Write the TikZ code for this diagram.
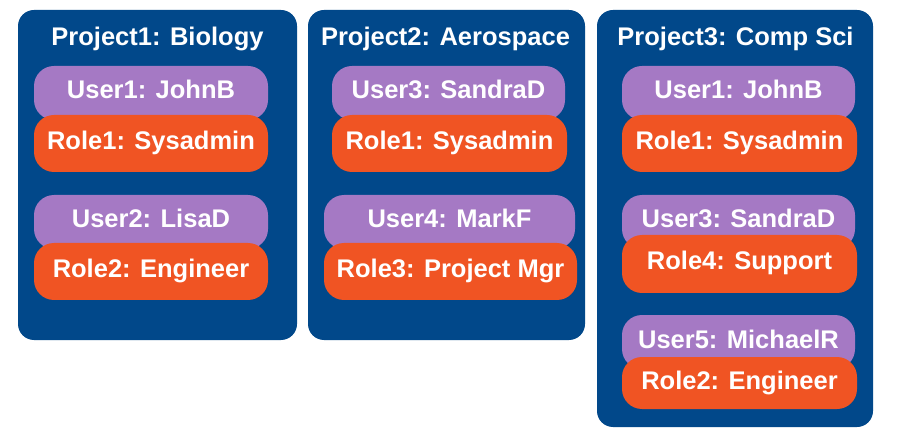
\documentclass[tikz,border=0pt]{standalone}
\usepackage{fontspec}
\setmainfont{Liberation Sans}
\definecolor{projblue}{RGB}{1,72,138}
\definecolor{userpurple}{RGB}{165,121,196}
\definecolor{roleorange}{RGB}{240,84,35}
\begin{document}
\begin{tikzpicture}[x=1pt,y=-1pt,
  proj/.style={fill=projblue, rounded corners=16pt, inner sep=0pt},
  lbl/.style={text=white, font=\fontsize{25.5}{30}\selectfont\bfseries, inner sep=0pt},
  title/.style={lbl, text height=18pt, text depth=0pt},
  userbox/.style={lbl, fill=userpurple, rounded corners=20pt, minimum height=54pt, text height=12pt, text depth=0pt},
  rolebox/.style={lbl, fill=roleorange, rounded corners=20pt, minimum height=57pt, text height=12pt, text depth=0pt}
]
\useasboundingbox (0,0) rectangle (918,446);

% Project boxes
\node[proj, minimum width=279pt, minimum height=330pt] (p1) at (157.5,175) {};
\node[proj, minimum width=277pt, minimum height=330pt] (p2) at (446.5,175) {};
\node[proj, minimum width=276pt, minimum height=417pt] (p3) at (735,218.5) {};

% Titles
\node[title] (t1) at (157.5,36.5) {Project1: Biology};
\node[title] (t2) at (445.5,36.5) {Project2: Aerospace};
\node[title] (t3) at (735.5,36.5) {Project3: Comp Sci};

% Project 1
\node[userbox, minimum width=234pt] (p1u1) at (151,93) {User1: JohnB};
\node[rolebox, minimum width=234pt] (p1r1) at (151,143.5) {Role1: Sysadmin};
\node[userbox, minimum width=234pt] (p1u2) at (151,222) {User2: LisaD};
\node[rolebox, minimum width=234pt] (p1r2) at (151,271.5) {Role2: Engineer};

% Project 2
\node[userbox, minimum width=233pt] (p2u3) at (448.5,93) {User3: SandraD};
\node[rolebox, minimum width=235pt] (p2r1) at (449.5,143.5) {Role1: Sysadmin};
\node[userbox, minimum width=251pt] (p2u4) at (449.5,222) {User4: MarkF};
\node[rolebox, minimum width=253pt] (p2r3) at (450.5,271.5) {Role3: Project Mgr};

% Project 3
\node[userbox, minimum width=233pt] (p3u1) at (738.5,93) {User1: JohnB};
\node[rolebox, minimum width=235pt] (p3r1) at (739.5,143.5) {Role1: Sysadmin};
\node[userbox, minimum width=233pt] (p3u3) at (738.5,222) {User3: SandraD};
\node[rolebox, minimum width=235pt, minimum height=58pt] (p3r4) at (739.5,264) {Role4: Support};
\node[userbox, minimum width=233pt] (p3u5) at (738.5,342) {User5: MichaelR};
\node[rolebox, minimum width=235pt, minimum height=52pt] (p3r2) at (739.5,383) {Role2: Engineer};
\end{tikzpicture}
\end{document}
